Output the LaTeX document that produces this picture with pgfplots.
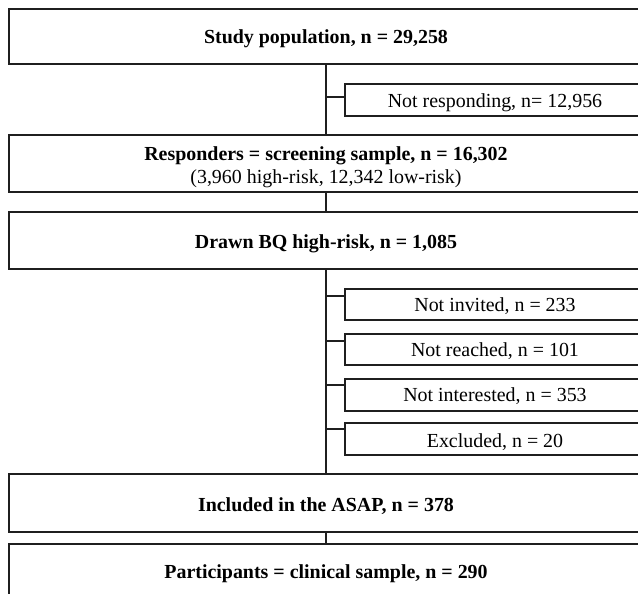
\documentclass[border=0pt]{standalone}
\usepackage{fontspec}
\setmainfont{Liberation Serif}
\usepackage{pgfplots}
\pgfplotsset{compat=1.18}
\begin{document}
\begin{tikzpicture}
\begin{axis}[
  name=ax,
  scale only axis, width=638bp, height=594bp,
  xmin=0, xmax=638, ymin=0, ymax=594, y dir=reverse,
  axis lines=none, clip=true,
  box/.style={line width=1.5pt, draw=black!88, mark=none, line join=miter, solid},
]
  % main boxes (right side runs off the page)
  \addplot[box] coordinates {(650,9) (9,9) (9,64) (650,64)};
  \addplot[box] coordinates {(650,135) (9,135) (9,192) (650,192)};
  \addplot[box] coordinates {(650,212) (9,212) (9,269) (650,269)};
  \addplot[box] coordinates {(650,474) (9,474) (9,532) (650,532)};
  \addplot[box] coordinates {(650,544) (9,544) (9,610)};

  % side boxes
  \addplot[box] coordinates {(650,84) (345,84) (345,116) (650,116)};
  \addplot[box] coordinates {(650,289) (345,289) (345,320) (650,320)};
  \addplot[box] coordinates {(650,334) (345,334) (345,365) (650,365)};
  \addplot[box] coordinates {(650,379) (345,379) (345,411) (650,411)};
  \addplot[box] coordinates {(650,423) (345,423) (345,455) (650,455)};

  % vertical flow line
  \addplot[box] coordinates {(326,64) (326,135)};
  \addplot[box] coordinates {(326,192) (326,212)};
  \addplot[box] coordinates {(326,269) (326,474)};
  \addplot[box] coordinates {(326,532) (326,544)};

  % connectors to the side boxes
  \addplot[box] coordinates {(326,97) (345,97)};
  \addplot[box] coordinates {(326,296) (345,296)};
  \addplot[box] coordinates {(326,341) (345,341)};
  \addplot[box] coordinates {(326,385) (345,385)};
  \addplot[box] coordinates {(326,429) (345,429)};

  \begin{scope}[every node/.style={anchor=base, inner sep=0pt, font=\fontsize{20}{24}\selectfont}]
  \node[font=\bfseries\fontsize{20}{24}\selectfont] at (axis cs:326,44) {Study population, n = 29,258};
  \node at (axis cs:495,107) {Not responding, n= 12,956};
  \node[font=\bfseries\fontsize{20}{24}\selectfont] at (axis cs:326,160) {Responders = screening sample, n = 16,302};
  \node at (axis cs:326,183) {(3,960 high-risk, 12,342 low-risk)};
  \node[font=\bfseries\fontsize{20}{24}\selectfont] at (axis cs:326,248) {Drawn BQ high-risk, n = 1,085};
  \node at (axis cs:495,311) {Not invited, n = 233};
  \node at (axis cs:495,356) {Not reached, n = 101};
  \node at (axis cs:495,401) {Not interested, n = 353};
  \node at (axis cs:495,447) {Excluded, n = 20};
  \node[font=\bfseries\fontsize{20}{24}\selectfont] at (axis cs:326,511) {Included in the ASAP, n = 378};
  \node[font=\bfseries\fontsize{20}{24}\selectfont] at (axis cs:326,578) {Participants = clinical sample, n = 290};
  \end{scope}
\end{axis}
\pgfresetboundingbox
\useasboundingbox (ax.south west) rectangle (ax.north east);
\end{tikzpicture}
\end{document}
